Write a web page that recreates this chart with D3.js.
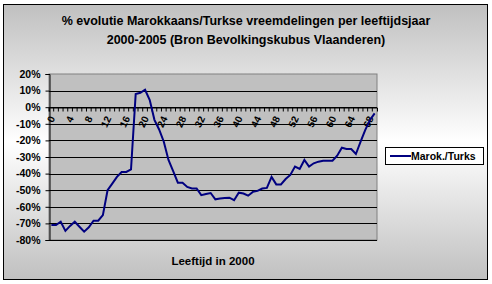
<!DOCTYPE html>
<html>
<head>
<meta charset="utf-8">
<script src="https://cdn.jsdelivr.net/npm/d3@7"></script>
<style>
  body { margin: 0; background: #ffffff; }
  text { font-family: "Liberation Sans", Arial, sans-serif; font-weight: bold; }
</style>
</head>
<body>
<div id="chart"></div>
<script>
// Ages (leeftijd in 2000) on the category axis
var ages = d3.range(0, 70);
// Only every 4th age gets a label
var ageLabels = [0, 4, 8, 12, 16, 20, 24, 28, 32, 36, 40, 44, 48, 52, 56, 60, 64, 68];
// % evolution per age
var marokTurks = [-71, -71, -69, -74.5, -71.5, -69, -72, -75, -72.3, -68.4,
  -68.4, -65, -50, -46, -42, -39, -39, -37.5, 8, 8.7,
  10.5, 4.3, -7.6, -13.4, -20.8, -31.8, -38.5, -45.5, -45.5, -48,
  -49, -49, -53, -52.3, -51.7, -55.5, -55, -54.7, -54.5, -56,
  -51.5, -52, -53.3, -51, -50.4, -49, -48.6, -42, -46.5, -46.5,
  -43.3, -40.8, -35.8, -37.2, -31.8, -35.8, -33.8, -32.8, -32.2, -32.2,
  -32.2, -29.2, -24.4, -25.2, -25.2, -28.2, -20.8, -13.7, -7.7, -3.7];
// Y axis ticks in percent
var yTicks = [20, 10, 0, -10, -20, -30, -40, -50, -60, -70, -80];
var titleLines = ["% evolutie Marokkaans/Turkse vreemdelingen per leeftijdsjaar",
  "2000-2005 (Bron Bevolkingskubus Vlaanderen)"];
var seriesName = "Marok./Turks";
var xTitle = "Leeftijd in 2000";

var svgWidth = 492;
var svgHeight = 284;

var svg = d3.select("#chart")
  .append("svg")
    .attr("width", svgWidth)
    .attr("height", svgHeight);

// gray - white - gray background like the excel chart area
var grad = svg.append("defs").append("linearGradient")
  .attr("id", "bg")
  .attr("x1", 0).attr("y1", 0).attr("x2", 0).attr("y2", 1);
grad.append("stop").attr("offset", "0%").attr("stop-color", "#c0c0c0");
grad.append("stop").attr("offset", "50%").attr("stop-color", "#ffffff");
grad.append("stop").attr("offset", "100%").attr("stop-color", "#c0c0c0");

svg.append("rect")
  .attr("x", 3.5).attr("y", 4.5)
  .attr("width", 484).attr("height", 275)
  .attr("fill", "url(#bg)")
  .attr("stroke", "#000")
  .attr("stroke-width", 1);

// Title
svg.selectAll(".title")
  .data(titleLines)
  .enter()
  .append("text")
  .attr("class", "title")
  .attr("x", 246)
  .attr("y", function(d, i) { return 25 + i * 19; })
  .attr("text-anchor", "middle")
  .attr("font-size", 12.5)
  .text(function(d) { return d; });

// Plot area
var plotLeft = 49, plotRight = 377, plotTop = 74, plotBottom = 240;

var x = d3.scaleBand()
  .domain(ages)
  .range([plotLeft, plotRight]);

var y = d3.scaleLinear()
  .domain([-80, 20])
  .range([plotBottom, plotTop]);

svg.append("rect")
  .attr("x", plotLeft).attr("y", plotTop)
  .attr("width", plotRight - plotLeft).attr("height", plotBottom - plotTop)
  .attr("fill", "#c0c0c0")
  .attr("stroke", "#808080");

// gridlines
svg.selectAll(".grid")
  .data(yTicks.slice(1))
  .enter()
  .append("line")
  .attr("class", "grid")
  .attr("x1", plotLeft).attr("x2", plotRight)
  .attr("y1", function(d) { return Math.round(y(d)) + 0.5; })
  .attr("y2", function(d) { return Math.round(y(d)) + 0.5; })
  .attr("stroke", "#000");

// Y axis
var yAxis = svg.append("g")
  .attr("transform", "translate(" + (plotLeft + 0.5) + ",0)")
  .call(d3.axisLeft(y)
    .tickValues(yTicks)
    .tickSize(4)
    .tickPadding(5)
    .tickFormat(function(d) { return d + "%"; }));
yAxis.select(".domain").attr("stroke", "#000");
yAxis.selectAll("text")
  .attr("font-size", 10.5)
  .attr("font-family", "Liberation Sans, Arial, sans-serif")
  .attr("font-weight", "bold")
  .attr("fill", "#000");

// X axis at 0%
var xAxis = svg.append("g")
  .attr("transform", "translate(0," + (Math.round(y(0)) + 0.5) + ")")
  .call(d3.axisBottom(x)
    .tickSize(4)
    .tickFormat(""));
xAxis.select(".domain").attr("stroke", "#000");
// excel puts the ticks between categories
xAxis.selectAll(".tick line")
  .attr("x1", -x.bandwidth() / 2)
  .attr("x2", -x.bandwidth() / 2);

svg.selectAll(".xlab")
  .data(ageLabels)
  .enter()
  .append("text")
  .attr("class", "xlab")
  .attr("font-size", 10)
  .attr("text-anchor", "end")
  .attr("transform", function(d) {
    return "translate(" + (x(d) + x.bandwidth() / 2 + 4) + "," + (y(0) + 11) + ") rotate(-65)";
  })
  .text(function(d) { return d; });

// the series line
var line = d3.line()
  .x(function(d, i) { return x(ages[i]) + x.bandwidth() / 2; })
  .y(function(d) { return y(d); });

svg.append("path")
  .datum(marokTurks)
  .attr("d", line)
  .attr("fill", "none")
  .attr("stroke", "#000080")
  .attr("stroke-width", 2);

// X title
svg.append("text")
  .attr("x", (plotLeft + plotRight) / 2)
  .attr("y", 265)
  .attr("text-anchor", "middle")
  .attr("font-size", 11.5)
  .text(xTitle);

// Legend
svg.append("rect")
  .attr("x", 385.5).attr("y", 147.5)
  .attr("width", 98).attr("height", 17)
  .attr("fill", "#fff")
  .attr("stroke", "#000");
svg.append("line")
  .attr("x1", 390).attr("x2", 411)
  .attr("y1", 156).attr("y2", 156)
  .attr("stroke", "#000080")
  .attr("stroke-width", 2);
svg.append("text")
  .attr("x", 411)
  .attr("y", 160)
  .attr("font-size", 10.5)
  .text(seriesName);
</script>
</body>
</html>
